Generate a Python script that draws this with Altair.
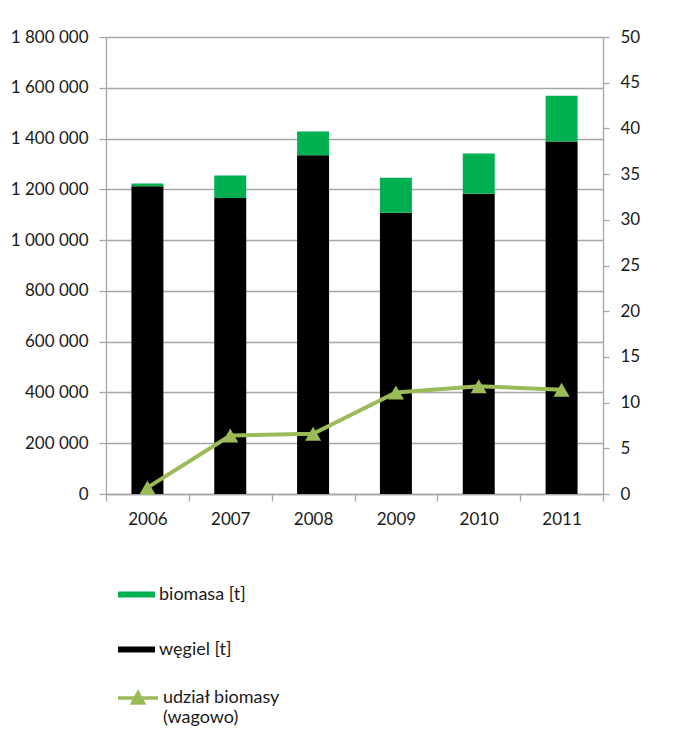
import altair as alt
import pandas as pd

years = ["2006", "2007", "2008", "2009", "2010", "2011"]
wegiel = [1212000, 1166000, 1334000, 1108000, 1183000, 1388000]
biomasa = [11000, 88000, 94000, 138000, 158000, 181000]
udzial = [0.7, 6.4, 6.6, 11.1, 11.8, 11.4]

series_names = ["biomasa [t]", "węgiel [t]"]
series_colors = ["#00B050", "#000000"]
line_name = "udział biomasy|(wagowo)"
line_color = "#9BBB59"

left_ticks = list(range(0, 1800001, 200000))
right_ticks = list(range(0, 51, 5))

rows = []
for i, y in enumerate(years):
    rows.append({"year": y, "series": series_names[1], "value": wegiel[i], "ord": 0})
    rows.append({"year": y, "series": series_names[0], "value": biomasa[i], "ord": 1})
bars_df = pd.DataFrame(rows)
line_df = pd.DataFrame({"year": years, "share": udzial, "name": [line_name] * len(years)})

FONT = "Lato"
GRAY = "#A6A6A6"
TXT = "#1a1a1a"

x_enc = alt.X(
    "year:N",
    sort=years,
    scale=alt.Scale(paddingInner=0, paddingOuter=0),
    axis=alt.Axis(
        title=None, labelAngle=0, tickBand="extent", tickSize=7, tickColor=GRAY,
        domainColor=GRAY, domainWidth=1.3, tickWidth=1.3, labelPadding=10, grid=False,
    ),
)

bars = alt.Chart(bars_df).mark_bar(width=alt.RelativeBandSize(0.386)).encode(
    x=x_enc,
    y=alt.Y(
        "value:Q",
        stack="zero",
        scale=alt.Scale(domain=[0, 1800000], nice=False),
        axis=alt.Axis(
            title=None, values=left_ticks,
            labelExpr="join(split(format(datum.value, ','), ','), ' ')",
            tickSize=7, tickColor=GRAY,
            tickWidth=1.3, domainColor=GRAY, domainWidth=1.3, labelPadding=11,
            grid=True, gridColor=GRAY, gridWidth=1.3,
        ),
    ),
    color=alt.Color(
        "series:N",
        scale=alt.Scale(domain=series_names, range=series_colors),
        legend=alt.Legend(
            title=None, orient="none", legendX=12, legendY=539,
            symbolType="M-1,-0.16L1,-0.16L1,0.16L-1,0.16Z", symbolSize=1369,
            symbolStrokeWidth=0, rowPadding=27, labelOffset=4,
        ),
    ),
    order=alt.Order("ord:Q"),
)

line = alt.Chart(line_df).mark_line(
    strokeWidth=4,
    point=alt.OverlayMarkDef(shape="triangle-up", size=260, filled=True),
).encode(
    x=alt.X("year:N", sort=years),
    y=alt.Y(
        "share:Q",
        scale=alt.Scale(domain=[0, 50], nice=False),
        axis=alt.Axis(
            title=None, orient="right", values=right_ticks, tickSize=6, tickColor=GRAY,
            tickWidth=1.3, domainColor=GRAY, domainWidth=1.3, labelPadding=11, grid=False,
        ),
    ),
    color=alt.Color(
        "name:N",
        scale=alt.Scale(domain=[line_name], range=[line_color]),
        legend=alt.Legend(
            title=None, orient="none", legendX=10, legendY=639,
            symbolType="M-1,0L1,0M-0.27,0.25L0,-0.25L0.27,0.25Z", symbolSize=1600,
            symbolFillColor=line_color, symbolStrokeColor=line_color, symbolStrokeWidth=3.5,
            labelOffset=3, labelExpr="split(datum.label, '|')",
        ),
    ),
)

chart = alt.layer(bars, line).resolve_scale(
    y="independent", color="independent"
).properties(
    width=497, height=457,
    padding={"left": 2, "top": 20, "right": 5, "bottom": 5},
).configure_view(
    stroke=None,
).configure_axis(
    labelFont=FONT, labelFontSize=17, labelColor=TXT,
).configure_legend(
    labelFont=FONT, labelFontSize=18, labelColor=TXT, labelLimit=300,
)

chart.save("out.html", embed_options={"renderer": "svg", "actions": False})
